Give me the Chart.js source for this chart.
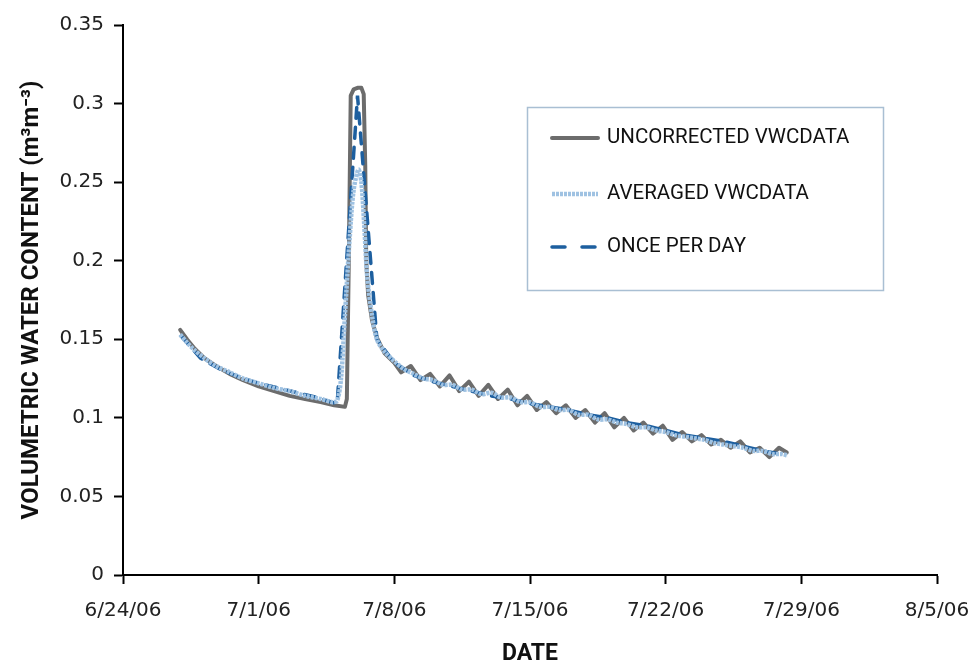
<!DOCTYPE html>
<html>
<head>
<meta charset="utf-8">
<script src="https://cdn.jsdelivr.net/npm/chart.js@4.4.1/dist/chart.umd.min.js"></script>
<style>
  html, body { margin: 0; padding: 0; background: #fff; }
  #wrap { width: 976px; height: 665px; }
</style>
</head>
<body>
<div id="wrap"><canvas id="vwcChart" width="976" height="665"></canvas></div>
<script>
// x values are days since 6/24/06
const dateTicks = ['6/24/06', '7/1/06', '7/8/06', '7/15/06', '7/22/06', '7/29/06', '8/5/06'];
const seriesNames = ['UNCORRECTED VWCDATA', 'AVERAGED VWCDATA', 'ONCE PER DAY'];

const uncorrectedDays = [2.95, 3.3, 3.7, 4.2, 4.8, 5.5, 6.2, 7.0, 7.8, 8.6, 9.4, 10.2, 10.9, 11.45, 11.55, 11.65, 11.75,
  11.9, 12.1, 12.3, 12.42, 12.5, 12.55, 12.65, 12.85, 13.1, 13.5, 14.0, 14.35, 14.85, 15.35, 15.85, 16.35, 16.85,
  17.35, 17.85, 18.35, 18.85, 19.35, 19.85, 20.35, 20.85, 21.35, 21.85, 22.35, 22.85, 23.35, 23.85, 24.35, 24.85,
  25.35, 25.85, 26.35, 26.85, 27.35, 27.85, 28.35, 28.85, 29.35, 29.85, 30.35, 30.85, 31.35, 31.85, 32.35, 32.85,
  33.35, 33.85, 34.25];
const uncorrectedVWC = [0.156, 0.150, 0.144, 0.138, 0.133, 0.128, 0.124, 0.120, 0.117, 0.114, 0.112, 0.110, 0.108, 0.107, 0.112, 0.200, 0.305,
  0.309, 0.310, 0.310, 0.306, 0.260, 0.200, 0.178, 0.162, 0.151, 0.141, 0.135, 0.129, 0.133, 0.124, 0.128, 0.120, 0.127,
  0.117, 0.123, 0.114, 0.121, 0.112, 0.118, 0.108, 0.114, 0.105, 0.110, 0.103, 0.108, 0.100, 0.105, 0.097, 0.103,
  0.094, 0.100, 0.092, 0.097, 0.090, 0.095, 0.086, 0.091, 0.085, 0.089, 0.083, 0.086, 0.081, 0.085, 0.078, 0.081,
  0.075, 0.081, 0.078];

const averagedDays = [2.95, 3.3, 3.7, 4.2, 4.8, 5.5, 6.2, 7.0, 7.8, 8.6, 9.4, 10.2, 10.8, 11.05, 11.25, 11.45, 11.7, 11.9,
  12.15, 12.3, 12.45, 12.6, 12.85, 13.1, 13.5, 14.0, 14.5, 15.0, 15.5, 16.0, 16.5, 17.0, 17.5, 18.0, 18.5, 19.0, 19.5,
  20.0, 20.5, 21.0, 21.5, 22.0, 22.5, 23.0, 23.5, 24.0, 24.5, 25.0, 25.5, 26.0, 26.5, 27.0, 27.5, 28.0, 28.5, 29.0,
  29.5, 30.0, 30.5, 31.0, 31.5, 32.0, 32.5, 33.0, 33.5, 34.0, 34.3];
const averagedVWC = [0.153, 0.148, 0.143, 0.138, 0.133, 0.129, 0.125, 0.122, 0.119, 0.117, 0.114, 0.112, 0.110, 0.111, 0.125, 0.165, 0.215, 0.245,
  0.258, 0.250, 0.222, 0.190, 0.165, 0.150, 0.142, 0.136, 0.131, 0.128, 0.125, 0.124, 0.121, 0.121, 0.118, 0.118, 0.115, 0.116, 0.113,
  0.113, 0.110, 0.110, 0.107, 0.107, 0.105, 0.105, 0.102, 0.102, 0.099, 0.099, 0.097, 0.096, 0.094, 0.094, 0.092, 0.091, 0.089, 0.088,
  0.087, 0.086, 0.084, 0.083, 0.082, 0.081, 0.079, 0.079, 0.077, 0.077, 0.076];

const dailyDays = [3, 4, 5, 6, 7, 8, 9, 10, 11.05, 12.1, 13.1, 14, 15, 16, 17, 18, 19, 20, 21, 22, 23, 24, 25, 26, 27, 28,
  29, 30, 31, 32, 33, 34];
const dailyVWC = [0.152, 0.138, 0.131, 0.126, 0.122, 0.119, 0.116, 0.113, 0.109, 0.305, 0.150, 0.135, 0.127, 0.123,
  0.120, 0.117, 0.114, 0.112, 0.109, 0.107, 0.105, 0.102, 0.100, 0.097, 0.095, 0.092, 0.089, 0.087, 0.085, 0.082,
  0.079, 0.077];

function toPoints(xs, ys) {
  return xs.map((x, i) => ({ x: x, y: ys[i] }));
}

// legend drawn as a framed box inside the plot
const boxLegend = {
  id: 'boxLegend',
  afterDatasetsDraw(chart) {
    const ctx = chart.ctx;
    const rows = [138, 194, 247];
    ctx.save();
    ctx.fillStyle = '#fff';
    ctx.fillRect(527, 107, 356, 183);
    ctx.strokeStyle = '#a9bfd3';
    ctx.lineWidth = 1.5;
    ctx.strokeRect(527.5, 107.5, 356, 183);
    chart.data.datasets.forEach((ds, i) => {
      const y = rows[i];
      ctx.beginPath();
      ctx.setLineDash(ds.legendDash || ds.borderDash || []);
      ctx.lineWidth = ds.borderWidth;
      ctx.strokeStyle = ds.borderColor;
      ctx.lineCap = ds.borderCapStyle || 'butt';
      ctx.moveTo(552, y);
      ctx.lineTo(598, y);
      ctx.stroke();
      ctx.setLineDash([]);
      ctx.fillStyle = '#111';
      ctx.font = '20.5px Roboto';
      ctx.textBaseline = 'middle';
      ctx.textAlign = 'left';
      ctx.fillText(ds.label, 607, y);
    });
    ctx.restore();
  }
};

new Chart(document.getElementById('vwcChart'), {
  type: 'line',
  data: {
    datasets: [
      {
        label: seriesNames[0],
        data: toPoints(uncorrectedDays, uncorrectedVWC),
        borderColor: '#6c6c6c',
        borderWidth: 4,
        borderJoinStyle: 'round',
        borderCapStyle: 'round',
        pointRadius: 0,
        tension: 0,
        order: 3
      },
      {
        label: seriesNames[1],
        data: toPoints(averagedDays, averagedVWC),
        borderColor: '#9fc2e2',
        borderWidth: 4.5,
        borderDash: [3, 1],
        borderJoinStyle: 'round',
        pointRadius: 0,
        tension: 0.3,
        order: 1
      },
      {
        label: seriesNames[2],
        data: toPoints(dailyDays, dailyVWC),
        borderColor: '#1d5f9f',
        borderWidth: 3.5,
        borderDash: [11, 9],
        legendDash: [13, 17],
        borderCapStyle: 'round',
        pointRadius: 0,
        tension: 0,
        order: 2
      }
    ]
  },
  options: {
    responsive: false,
    animation: false,
    layout: { padding: { top: 25, right: 39, bottom: 0, left: 0 } },
    plugins: {
      legend: { display: false },
      tooltip: { enabled: false }
    },
    scales: {
      x: {
        type: 'linear',
        min: 0,
        max: 42,
        afterFit: scale => {
          scale.height = 90;
          scale.paddingLeft = 0;
          scale.paddingRight = 0;
        },
        afterBuildTicks: scale => {
          scale.ticks = dateTicks.map((t, i) => ({ value: i * 7 }));
        },
        ticks: {
          stepSize: 7,
          color: '#222',
          padding: 15,
          maxRotation: 0,
          font: { family: 'DejaVu Sans', size: 20 },
          callback: v => dateTicks[Math.round(v / 7)]
        },
        grid: { display: true, drawOnChartArea: false, drawTicks: true, tickLength: 9, tickColor: '#000', tickWidth: 2 },
        border: { display: true, color: '#000', width: 2 },
        title: {
          display: true,
          text: 'DATE',
          color: '#111',
          font: { family: 'Roboto', size: 23, weight: 'bold' },
          padding: { top: 0, bottom: -3 }
        }
      },
      y: {
        min: 0,
        max: 0.35,
        afterFit: scale => {
          scale.width = 123;
          scale.paddingTop = 0;
          scale.paddingBottom = 0;
        },
        ticks: {
          stepSize: 0.05,
          color: '#222',
          padding: 10,
          font: { family: 'DejaVu Sans', size: 20 },
          callback: v => String(+v.toFixed(2))
        },
        grid: { display: true, drawOnChartArea: false, drawTicks: true, tickLength: 9, tickColor: '#000', tickWidth: 2 },
        border: { display: true, color: '#000', width: 2 },
        title: {
          display: true,
          text: 'VOLUMETRIC WATER CONTENT (m³m⁻³)',
          color: '#111',
          font: { family: 'Roboto', size: 24, weight: 'bold' },
          padding: { top: 18, bottom: 0 }
        }
      }
    }
  },
  plugins: [boxLegend]
});
</script>
</body>
</html>
